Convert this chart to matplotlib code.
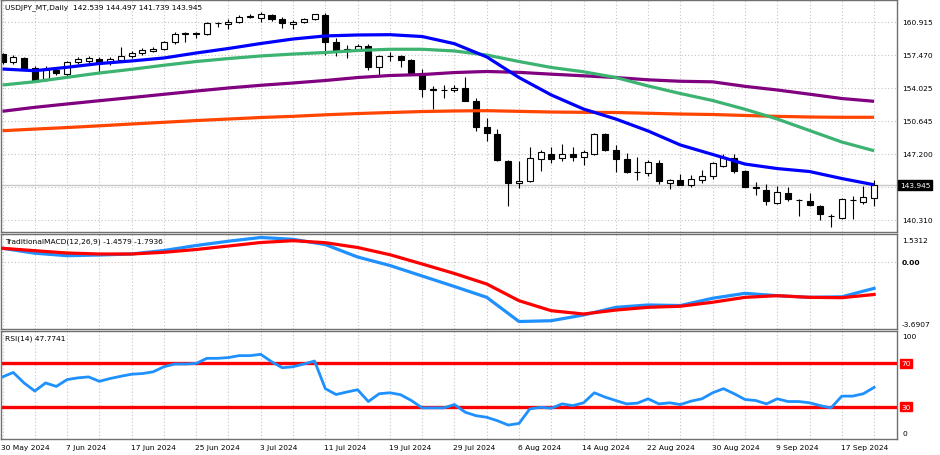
import matplotlib.pyplot as plt
import matplotlib.transforms as mtransforms
import numpy as np

plt.rcParams['font.family'] = ['DejaVu Sans']
plt.rcParams['font.size'] = 5.4

# daily candles, 30 May 2024 .. 20 Sep 2024 (one per weekday)
opens = [157.6, 156.75, 157.2, 156.1, 155.0, 155.95, 155.55, 156.75, 156.9, 157.1,
         156.75, 157.0, 157.35, 157.75, 157.95, 158.1, 158.9, 159.7, 159.75, 159.7,
         160.85, 160.75, 160.9, 161.5, 161.35, 161.65, 161.3, 160.7, 160.9, 161.3,
         161.7, 158.9, 157.95, 158.1, 158.4, 156.2, 157.35, 157.4, 157.0, 155.6,
         153.95, 153.9, 153.9, 154.05, 152.75, 149.95, 149.3, 146.45, 144.1, 144.3,
         146.65, 147.2, 146.7, 147.15, 146.85, 147.2, 149.3, 147.6, 146.6, 145.3,
         145.2, 146.2, 144.1, 144.5, 143.95, 144.45, 144.85, 145.95, 146.8, 145.4,
         143.7, 143.45, 142.1, 143.15, 142.4, 142.3, 141.75, 140.7, 140.5, 142.35,
         142.2, 142.539]
highs = [157.7, 157.5, 157.3, 156.4, 156.4, 156.3, 156.9, 157.3, 157.4, 157.3,
         157.3, 158.3, 157.95, 158.2, 158.3, 159.0, 159.9, 159.9, 159.95, 160.9,
         160.95, 161.25, 161.7, 161.75, 161.95, 161.75, 161.45, 161.2, 161.4, 161.8,
         161.85, 159.3, 158.5, 158.7, 158.6, 157.5, 157.8, 157.5, 157.1, 156.0,
         154.3, 154.35, 154.4, 155.25, 153.0, 150.9, 149.8, 146.5, 146.4, 147.9,
         147.55, 147.85, 148.2, 147.9, 147.6, 149.4, 149.4, 148.1, 147.3, 146.9,
         146.5, 146.5, 144.6, 145.1, 145.0, 145.5, 146.3, 147.2, 147.2, 145.5,
         144.2, 144.0, 143.8, 143.7, 142.5, 143.1, 141.8, 140.9, 142.6, 142.75,
         143.8, 144.497]
lows = [156.6, 156.6, 156.0, 154.8, 154.8, 155.4, 155.2, 156.6, 156.7, 155.75,
        156.5, 156.9, 157.2, 157.5, 157.8, 158.0, 158.7, 158.9, 159.3, 159.6,
        160.4, 160.2, 160.8, 161.4, 160.9, 161.1, 160.3, 160.2, 160.8, 161.2,
        157.5, 157.4, 157.2, 157.9, 155.95, 155.4, 156.9, 156.3, 155.5, 153.1,
        151.9, 153.0, 153.6, 152.7, 149.6, 148.5, 146.4, 141.7, 143.6, 144.25,
        145.4, 146.2, 146.4, 146.45, 146.0, 147.1, 147.5, 145.3, 145.2, 144.45,
        144.9, 144.0, 143.5, 143.9, 143.75, 144.1, 144.6, 145.8, 145.2, 143.7,
        142.9, 141.8, 141.9, 142.3, 140.7, 141.7, 140.3, 139.6, 140.4, 140.4,
        141.9, 141.739]
closes = [156.8, 157.25, 156.05, 154.9, 155.9, 155.6, 156.75, 157.1, 157.2, 156.75,
          157.1, 157.35, 157.75, 158.0, 158.1, 158.9, 159.7, 159.75, 159.7, 160.85,
          160.8, 160.95, 161.5, 161.6, 161.75, 161.25, 160.8, 160.95, 161.3, 161.75,
          158.9, 157.95, 158.1, 158.4, 156.2, 157.35, 157.4, 157.0, 155.6, 153.95,
          153.9, 153.85, 154.1, 152.75, 150.0, 149.35, 146.5, 144.15, 144.3, 146.7,
          147.35, 146.65, 147.2, 146.85, 147.35, 149.3, 147.6, 146.65, 145.3, 145.25,
          146.35, 144.35, 144.5, 143.95, 144.6, 144.9, 146.2, 146.9, 145.4, 143.75,
          143.6, 142.3, 143.2, 142.45, 142.35, 141.8, 140.9, 140.65, 142.45, 142.4,
          142.65, 143.945]

# moving averages, read every third bar
ma_blue = [156.04, 155.86, 156.22, 156.61, 156.88, 157.19, 157.71, 158.18, 158.7, 159.17,
           159.49, 159.59, 159.62, 159.43, 158.68, 157.3, 155.15, 153.33, 151.86, 150.82,
           149.57, 148.11, 147.12, 146.12, 145.65, 145.34, 144.61, 143.96]
ma_green = [154.37, 154.71, 155.17, 155.62, 156.01, 156.43, 156.82, 157.13, 157.4, 157.6,
            157.76, 157.97, 158.1, 158.1, 157.92, 157.5, 156.82, 156.2, 155.75, 155.15,
            154.27, 153.48, 152.75, 151.84, 150.82, 149.62, 148.42, 147.51]
ma_purple = [151.63, 152.04, 152.39, 152.73, 153.06, 153.4, 153.74, 154.06, 154.34, 154.58,
             154.84, 155.15, 155.36, 155.46, 155.67, 155.78, 155.69, 155.5, 155.33, 155.15,
             154.91, 154.76, 154.7, 154.23, 153.85, 153.41, 152.96, 152.67]
ma_orange = [149.6, 149.77, 149.93, 150.11, 150.3, 150.48, 150.66, 150.82, 150.98, 151.1,
             151.26, 151.39, 151.5, 151.6, 151.66, 151.69, 151.62, 151.55, 151.52, 151.5,
             151.42, 151.34, 151.29, 151.19, 151.1, 151.03, 151.0, 151.0]

# MACD main / signal, read every third bar
macd_line = [0.745, 0.476, 0.338, 0.377, 0.432, 0.624, 0.899, 1.135, 1.339, 1.24,
             0.95, 0.267, -0.2, -0.778, -1.355, -1.949, -3.28, -3.235, -2.92, -2.50,
             -2.37, -2.40, -2.0, -1.73, -1.86, -1.95, -1.92, -1.458]
macd_signal = [0.745, 0.613, 0.487, 0.432, 0.432, 0.525, 0.679, 0.871, 1.064, 1.163,
               1.053, 0.789, 0.393, -0.118, -0.64, -1.217, -2.135, -2.685, -2.867, -2.65,
               -2.498, -2.44, -2.22, -1.95, -1.86, -1.95, -1.97, -1.794]

rsi = [57.5, 61.6, 51.9, 44.4, 51.9, 48.7, 55.0, 56.6, 57.5, 53.4,
       56.0, 58.1, 60.0, 60.6, 62.2, 66.9, 69.4, 69.4, 70.0, 74.7,
       74.7, 75.4, 77.2, 77.2, 78.4, 71.6, 66.0, 66.9, 69.4, 72.2,
       46.6, 41.2, 43.5, 45.6, 34.7, 41.9, 42.8, 41.0, 35.6, 28.8,
       28.8, 28.8, 31.9, 24.8, 21.6, 20.1, 16.9, 12.9, 14.4, 27.8,
       29.4, 28.5, 32.5, 30.9, 33.5, 42.8, 38.8, 35.6, 32.5, 33.2,
       37.2, 32.5, 33.5, 31.9, 35.1, 37.2, 42.8, 46.6, 41.9, 36.6,
       35.6, 32.5, 37.2, 34.7, 34.7, 33.5, 30.9, 28.8, 39.7, 39.7,
       41.9, 47.8]

date_labels = ['30 May 2024', '7 Jun 2024', '17 Jun 2024', '25 Jun 2024', '3 Jul 2024',
               '11 Jul 2024', '19 Jul 2024', '29 Jul 2024', '6 Aug 2024', '14 Aug 2024',
               '22 Aug 2024', '30 Aug 2024', '9 Sep 2024', '17 Sep 2024']
price_ticks = [160.915, 157.470, 154.025, 150.645, 147.200, 143.755, 140.310]
last_price = 143.945
macd_range = (-3.6907, 1.5312)

opens, highs, lows, closes = map(np.array, (opens, highs, lows, closes))
n = len(opens)
idx = np.arange(n)
ma_idx = np.arange(0, n, 3)
label_idx = np.arange(0, n, 6)[:len(date_labels)]

W, H = 940, 456
fig = plt.figure(figsize=(W / 100, H / 100), dpi=100)


def box(l, t, r, b):
    return [l / W, 1 - b / H, (r - l) / W, (b - t) / H]


ax = fig.add_axes(box(1, 1, 897, 233))
ax2 = fig.add_axes(box(1, 235, 897, 330))
ax3 = fig.add_axes(box(1, 332, 897, 440))

grid_kw = dict(color='#c4c4c4', lw=0.8, ls=(0, (1, 2)), zorder=0)
for a in (ax, ax2, ax3):
    a.set_xlim(-0.14, 83.13)
    a.set_xticks([])
    a.set_yticks([])
    for s in a.spines.values():
        s.set_color('#707070')
        s.set_linewidth(1.0)
    for i in ma_idx:
        a.axvline(i, **grid_kw)

# main price window
ax.set_ylim(139.03, 163.24)
for p in price_ticks:
    ax.axhline(p, **grid_kw)
ax.axhline(last_price, color='#c8c8c8', lw=1.0, zorder=0.5)

up = closes >= opens
body_lo = np.minimum(opens, closes)
body_h = np.maximum(np.abs(closes - opens), 0.03)
ax.vlines(idx, lows, highs, color='black', lw=0.8, zorder=2)
ax.bar(idx, body_h, 0.56, bottom=body_lo, color=np.where(up, 'white', 'black'),
       edgecolor='black', lw=0.8, zorder=2.5)

for vals, col in [(ma_orange, '#ff4500'), (ma_purple, '#800080'),
                  (ma_green, '#3cb371'), (ma_blue, '#0000ff')]:
    ax.plot(ma_idx, vals, color=col, lw=2.3, solid_capstyle='butt', zorder=3)

tr = mtransforms.blended_transform_factory(ax.transAxes, ax.transData)
for p in price_ticks:
    if p == 143.755:
        continue
    ax.text(1.0056, p, f'{p:.3f}', transform=tr, ha='left', va='center', clip_on=False)
ax.text(1.0035, last_price, f'{last_price:.3f}', transform=tr, ha='left', va='center',
        color='white', bbox=dict(boxstyle='square,pad=0.25', fc='black', ec='black'))
ax.text(0.004, 0.972, 'USDJPY_MT,Daily  142.539 144.497 141.739 143.945',
        transform=ax.transAxes, ha='left', va='center')

# MACD window
ax2.set_ylim(*macd_range)
ax2.axhline(0, **grid_kw)
ax2.plot(ma_idx, macd_line, color='#1e90ff', lw=2.3, zorder=3)
ax2.plot(ma_idx, macd_signal, color='#ff0000', lw=2.3, zorder=3)
tr2 = mtransforms.blended_transform_factory(ax2.transAxes, ax2.transAxes)
ax2.text(1.0056, 1 - 6 / 95, f'{macd_range[1]:.4f}', transform=tr2, ha='left', va='center')
ax2.text(1.0056, (macd_range[1] - 0) / (macd_range[1] - macd_range[0]) * 0 + 1 - 28 / 95,
         '0.00', transform=tr2, ha='left', va='center', fontweight='bold')
ax2.text(1.0056, 5 / 95, f'{macd_range[0]:.4f}', transform=tr2, ha='left', va='center')
ax2.text(0.005, 1 - 7 / 95, 'TraditionalMACD(12,26,9) -1.4579 -1.7936',
         transform=ax2.transAxes, ha='left', va='center')

# RSI window
ax3.set_ylim(0, 100)
for lvl in (70, 30):
    ax3.axhline(lvl, color='#ff0000', lw=2.4, zorder=2)
ax3.plot(idx, rsi, color='#1e90ff', lw=2.0, zorder=3)
tr3 = mtransforms.blended_transform_factory(ax3.transAxes, ax3.transData)
ax3.text(1.0056, 95.6, '100', transform=tr3, ha='left', va='center')
ax3.text(1.0056, 5.6, '0', transform=tr3, ha='left', va='center')
for lvl in (70, 30):
    ax3.text(1.0045, lvl, str(lvl), transform=tr3, ha='left', va='center', color='white',
             bbox=dict(boxstyle='square,pad=0.15', fc='#ff0000', ec='#ff0000'))
ax3.text(0.004, 0.94, 'RSI(14) 47.7741', transform=ax3.transAxes, ha='left', va='center')

trd = mtransforms.blended_transform_factory(ax3.transData, ax3.transAxes)
for i, lab in zip(label_idx, date_labels):
    ax3.text(i - 0.1, -8 / 108, lab, transform=trd, ha='left', va='center')

fig.savefig('out.png', dpi=100)
